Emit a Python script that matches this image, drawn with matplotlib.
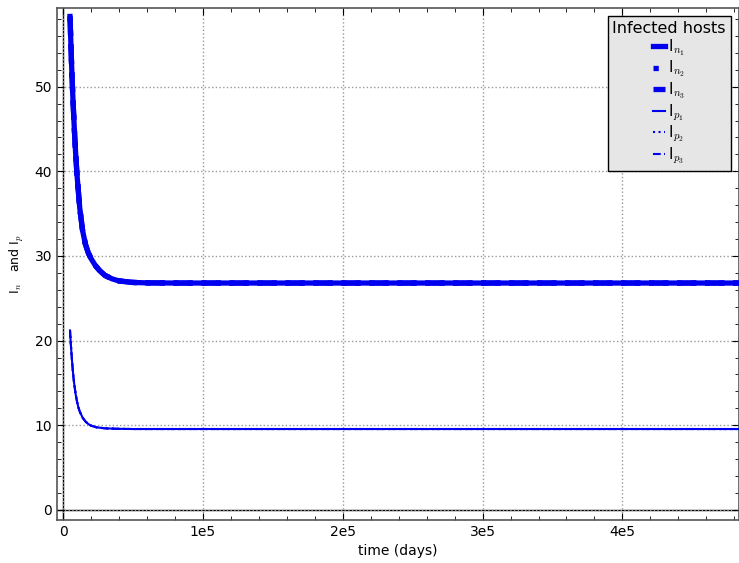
import numpy as np
import matplotlib
matplotlib.use("Agg")
import matplotlib.pyplot as plt
from matplotlib.ticker import MultipleLocator, FixedLocator, FixedFormatter

plt.rcParams["mathtext.fontset"] = "cm"

# time points (days) and values
t_n = [5000, 6000, 7000, 8000, 9000, 10000, 12000, 14000, 16000, 18000,
       20000, 23000, 26000, 30000, 35000, 40000, 50000, 60000, 80000,
       100000, 200000, 300000, 400000, 483000]
I_n = [58.3, 53.2, 48.9, 45.3, 42.2, 39.6, 35.6, 33.0, 31.4, 30.4,
       29.7, 28.9, 28.3, 27.7, 27.3, 27.05, 26.87, 26.82, 26.8,
       26.8, 26.8, 26.8, 26.8, 26.8]

t_p = [5000, 5500, 6000, 6500, 7000, 7500, 8000, 9000, 10000, 11000,
       12000, 14000, 16000, 18000, 20000, 24000, 30000, 40000, 50000,
       100000, 200000, 300000, 400000, 483000]
I_p = [21.2, 19.8, 18.6, 17.5, 16.5, 15.6, 14.9, 13.7, 12.8, 12.1,
       11.6, 10.9, 10.45, 10.15, 9.95, 9.75, 9.63, 9.57, 9.55,
       9.55, 9.55, 9.55, 9.55, 9.55]

xticks = [0, 100000, 200000, 300000, 400000]
xtick_labels = ["0", "1e5", "2e5", "3e5", "4e5"]

fig = plt.figure(figsize=(7.39, 5.63), dpi=100)
ax = fig.add_axes([57 / 739, 43 / 563, 681.5 / 739, 512 / 563])

blue = "#0000ee"
# the three host types overlap: solid one on top so the curve looks smooth
styles = [("-", 3), (":", 1), ("--", 2)]
for k, (ls, z) in enumerate(styles):
    ax.plot(t_n, I_n, color=blue, lw=3.8, ls=ls, zorder=z + 2,
            label=r"I$_{n_%d}$" % (k + 1))
for k, (ls, z) in enumerate(styles):
    ax.plot(t_p, I_p, color=blue, lw=1.5, ls=ls, zorder=z + 2,
            label=r"I$_{p_%d}$" % (k + 1))

# axis lines through the origin (sage style)
ax.axhline(0, color="black", lw=1, zorder=1)
ax.axvline(0, color="black", lw=1, zorder=1)

ax.set_xlim(-4300, 483000)
ax.set_ylim(-1.2, 59.3)

ax.xaxis.set_major_locator(FixedLocator(xticks))
ax.xaxis.set_major_formatter(FixedFormatter(xtick_labels))
ax.xaxis.set_minor_locator(MultipleLocator(20000))
ax.yaxis.set_major_locator(MultipleLocator(10))
ax.yaxis.set_minor_locator(MultipleLocator(2))
ax.tick_params(which="both", direction="in", top=True, right=True, labelsize=10)
ax.tick_params(which="major", length=5)
ax.tick_params(which="minor", length=3)

ax.grid(True, which="major", ls=":", color="#999999", lw=1)
for s in ax.spines.values():
    s.set_color("#555555")
    s.set_linewidth(1.2)

ax.set_xlabel("time (days)", fontsize=10, labelpad=4)
ax.set_ylabel(r"I$_n$   and I$_p$", fontsize=9, labelpad=6)

leg = ax.legend(title="Infected hosts", loc="upper right", fontsize=11,
                title_fontsize=11.5, handlelength=0.8, handletextpad=0.2,
                labelspacing=0.08, fancybox=False, framealpha=1,
                borderpad=0.3, bbox_to_anchor=(0.9995, 0.9985))
leg.get_frame().set_facecolor("#e6e6e6")
leg.get_frame().set_edgecolor("black")
leg.get_frame().set_linewidth(1)

fig.savefig("out.png", dpi=100)
